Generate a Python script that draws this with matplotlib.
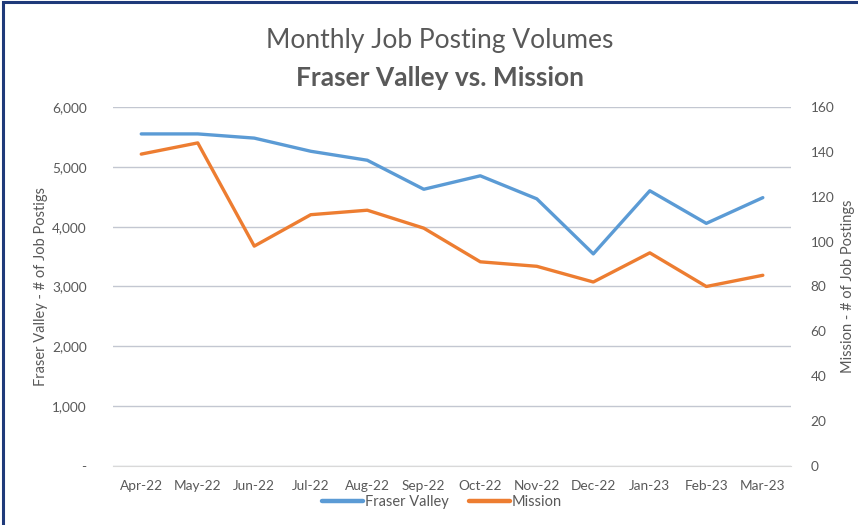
import matplotlib.pyplot as plt
from matplotlib.patches import Rectangle
from matplotlib.ticker import FuncFormatter

plt.rcParams['font.family'] = ['Lato', 'DejaVu Sans']

months = ['Apr-22', 'May-22', 'Jun-22', 'Jul-22', 'Aug-22', 'Sep-22',
          'Oct-22', 'Nov-22', 'Dec-22', 'Jan-23', 'Feb-23', 'Mar-23']
fraser_valley = [5550, 5550, 5480, 5260, 5110, 4625, 4850, 4465, 3545, 4600, 4055, 4485]
mission = [139, 144, 98, 112, 114, 106, 91, 89, 82, 95, 80, 85]

text_col = '#595959'
grid_col = '#c3c7d1'

fig = plt.figure(figsize=(8.58, 5.25), dpi=100)
ax = fig.add_axes([0.1317, 0.1124, 0.7903, 0.6838])
ax2 = ax.twinx()

x = range(len(months))
l1, = ax.plot(x, fraser_valley, color='#5B9BD5', lw=2.4, solid_capstyle='round', zorder=3)
l2, = ax2.plot(x, mission, color='#ED7D31', lw=2.4, solid_capstyle='round', zorder=3)

ax.set_xlim(-0.5, len(months) - 0.5)
ax.set_ylim(0, 6000)
ax2.set_ylim(0, 160)
ax.set_yticks(range(0, 6001, 1000))
ax2.set_yticks(range(0, 161, 20))
ax.yaxis.set_major_formatter(FuncFormatter(lambda v, p: '-' if v == 0 else f'{int(v):,}'))
ax.set_xticks(list(x))
ax.set_xticklabels(months)

ax.grid(axis='y', color=grid_col, lw=1)
ax.set_axisbelow(True)
for a in (ax, ax2):
    for s in a.spines.values():
        s.set_visible(False)
    a.tick_params(length=0, colors=text_col, labelsize=9.8)
ax.spines['bottom'].set_visible(True)
ax.spines['bottom'].set_color('#d9d9d9')
ax.tick_params(axis='y', pad=19)
ax.tick_params(axis='x', pad=10)
ax2.tick_params(axis='y', pad=14)

ax.set_ylabel('Fraser Valley - # of Job Postigs', color=text_col, fontsize=10.5)
ax.yaxis.set_label_coords(-0.096, 0.5)
ax2.set_ylabel('Mission - # of Job Postings', color=text_col, fontsize=10.5)
ax2.yaxis.set_label_coords(1.074, 0.5)

fig.text(0.513, 0.922, 'Monthly Job Posting Volumes', ha='center', va='center',
         fontsize=19, color=text_col)
fig.text(0.513, 0.852, 'Fraser Valley vs. Mission', ha='center', va='center',
         fontsize=19, fontweight='bold', color=text_col)

leg = fig.legend([l1, l2], ['Fraser Valley', 'Mission'], loc='center',
                 bbox_to_anchor=(0.515, 0.043), ncol=2, frameon=False,
                 fontsize=10.5, handlelength=2.8, handletextpad=0.1, columnspacing=1.4)
for t in leg.get_texts():
    t.set_color(text_col)
for h in leg.get_lines():
    h.set_linewidth(3.2)

fig.patches.append(Rectangle((0.003, -0.05), 1.2, 1.046, transform=fig.transFigure,
                             fill=False, edgecolor='#1f3a7a', lw=2.2))

fig.savefig('out.png', dpi=100, facecolor='white')
